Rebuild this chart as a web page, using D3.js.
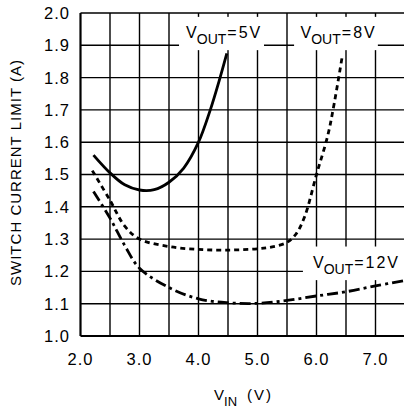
<!DOCTYPE html>
<html>
<head>
<meta charset="utf-8">
<script src="https://cdn.jsdelivr.net/npm/d3@7"></script>
<style>
  body { margin: 0; background: #fff; }
  text { font-family: "Liberation Sans", Arial, sans-serif; fill: #000; }
</style>
</head>
<body>
<div class="chart"></div>
<script>
// curve readings (VIN in volts, current limit in amps)
const vout5 = [[2.22,1.56],[2.5,1.505],[2.75,1.468],[3.0,1.452],[3.25,1.453],[3.5,1.476],[3.75,1.52],[4.0,1.60],[4.2,1.70],[4.35,1.79],[4.48,1.875]];
const vout8 = [[2.2,1.512],[2.5,1.42],[2.75,1.34],[3.0,1.30],[3.5,1.277],[4.0,1.268],[4.5,1.266],[5.0,1.27],[5.25,1.276],[5.5,1.29],[5.65,1.315],[5.8,1.37],[6.0,1.50],[6.19,1.62],[6.3,1.72],[6.44,1.87]];
const vout12 = [[2.22,1.447],[2.5,1.365],[2.75,1.28],[3.0,1.21],[3.5,1.15],[4.0,1.115],[4.5,1.103],[5.0,1.101],[5.5,1.11],[6.0,1.124],[6.5,1.137],[7.0,1.155],[7.5,1.172]];

const xTicks = [2, 3, 4, 5, 6, 7];
const xGrid = [2, 2.5, 3, 3.5, 4, 4.5, 5, 5.5, 6, 6.5, 7];
const yTicks = [1.0, 1.1, 1.2, 1.3, 1.4, 1.5, 1.6, 1.7, 1.8, 1.9, 2.0];

// annotation boxes: [x0, x1, y0, y1] in data units, label suffix
const labels = [
  { box: [3.67, 5.11, 1.988, 1.885], text: "=5V", tx: 3.79, ty: 1.923 },
  { box: [5.62, 7.04, 1.988, 1.885], text: "=8V", tx: 5.73, ty: 1.923 },
  { box: [5.77, 7.6, 1.277, 1.173], text: "=12V", tx: 5.94, ty: 1.21 }
];

const width = 404, height = 408;
const x = d3.scaleLinear().domain([2, 7.5]).range([80.5, 405]);
const y = d3.scaleLinear().domain([1, 2]).range([336, 13]);

const svg = d3.select('.chart').append('svg')
  .attr('width', width).attr('height', height);

// grid
svg.append('g').selectAll('line.v').data(xGrid).enter().append('line')
  .attr('x1', d => x(d)).attr('x2', d => x(d))
  .attr('y1', y(1)).attr('y2', y(2))
  .attr('stroke', '#000').attr('stroke-width', d => d === 2 ? 2.2 : 1.4);

svg.append('g').selectAll('line.h').data(yTicks).enter().append('line')
  .attr('x1', x(2)).attr('x2', width)
  .attr('y1', d => y(d)).attr('y2', d => y(d))
  .attr('stroke', '#000').attr('stroke-width', d => d === 1 ? 2.2 : 1.4);

// white label boxes
svg.append('g').selectAll('rect').data(labels).enter().append('rect')
  .attr('x', d => x(d.box[0])).attr('width', d => x(d.box[1]) - x(d.box[0]))
  .attr('y', d => y(d.box[2])).attr('height', d => y(d.box[3]) - y(d.box[2]))
  .attr('fill', '#fff');

// curves
const line = d3.line().x(d => x(d[0])).y(d => y(d[1])).curve(d3.curveCatmullRom.alpha(0.5));
const series = [
  { data: vout5, dash: null },
  { data: vout8, dash: '5,4' },
  { data: vout12, dash: '11,4,3,4' }
];
svg.append('g').selectAll('path').data(series).enter().append('path')
  .attr('d', d => line(d.data))
  .attr('fill', 'none').attr('stroke', '#000').attr('stroke-width', 2.8)
  .attr('stroke-dasharray', d => d.dash);

// tick labels
svg.append('g').selectAll('text').data(yTicks).enter().append('text')
  .attr('x', 70).attr('y', d => y(d)).attr('dy', '0.36em')
  .attr('text-anchor', 'end').attr('font-size', 16.5).attr('letter-spacing', 1)
  .text(d => d.toFixed(1));

svg.append('g').selectAll('text').data(xTicks).enter().append('text')
  .attr('x', d => x(d)).attr('y', 365)
  .attr('text-anchor', 'middle').attr('font-size', 16.5).attr('letter-spacing', 1)
  .text(d => d.toFixed(1));

// curve labels
labels.forEach(l => {
  const t = svg.append('text').attr('x', x(l.tx)).attr('y', y(l.ty)).attr('font-size', 16);
  t.append('tspan').text('V');
  t.append('tspan').attr('dy', 6).attr('font-size', 14).text('OUT');
  t.append('tspan').attr('dy', -6).attr('dx', 1).attr('letter-spacing', 2).text(l.text);
});

// axis titles
const xt = svg.append('text').attr('x', 214).attr('y', 400).attr('font-size', 15);
xt.append('tspan').text('V');
xt.append('tspan').attr('dy', 6).attr('font-size', 13).text('IN');
xt.append('tspan').attr('dy', -6).attr('dx', 10).attr('letter-spacing', 2).text('(V)');

svg.append('text')
  .attr('transform', 'translate(21,173) rotate(-90)')
  .attr('text-anchor', 'middle').attr('font-size', 15)
  .attr('textLength', 226).attr('lengthAdjust', 'spacing')
  .text('SWITCH CURRENT LIMIT (A)');
</script>
</body>
</html>
